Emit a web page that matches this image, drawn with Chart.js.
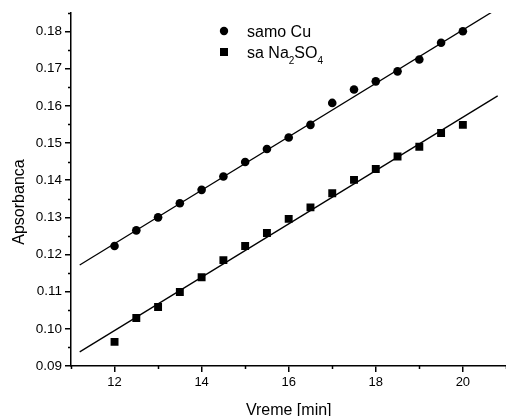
<!DOCTYPE html>
<html>
<head>
<meta charset="utf-8">
<script src="https://cdn.jsdelivr.net/npm/chart.js@4"></script>
<style>
  html, body { margin: 0; padding: 0; overflow: hidden; background: #fff; }
  #wrap { width: 512px; height: 416px; }
</style>
</head>
<body>
<div id="wrap"><canvas id="grafik" width="512" height="416"></canvas></div>
<script>
// Podaci ocitani sa grafika
const vreme = [12, 12.5, 13, 13.5, 14, 14.5, 15, 15.5, 16, 16.5, 17, 17.5, 18, 18.5, 19, 19.5, 20];
const samoCu = [0.1223, 0.1265, 0.1300, 0.1338, 0.1374, 0.1410, 0.1449, 0.1484, 0.1515, 0.1549,
                0.1608, 0.1644, 0.1666, 0.1693, 0.1725, 0.1770, 0.1801];
const saNa2SO4 = [0.0965, 0.1029, 0.1059, 0.1099, 0.1139, 0.1185, 0.1223, 0.1258, 0.1296, 0.1327,
                  0.1365, 0.1401, 0.1430, 0.1464, 0.1490, 0.1527, 0.1549];

// Linearni fit (krajnje tacke)
const fitX = [11.2, 20.8];
const fitCu = [0.1172, 0.1862];
const fitNa = [0.0938, 0.1627];

// Podeoci
const xMajor = [12, 14, 16, 18, 20];
const xMinor = [11, 13, 15, 17, 19, 21];
const yMajor = [0.09, 0.10, 0.11, 0.12, 0.13, 0.14, 0.15, 0.16, 0.17, 0.18];
const yMinor = [0.095, 0.105, 0.115, 0.125, 0.135, 0.145, 0.155, 0.165, 0.175, 0.185];

const FONT = 'Liberation Sans, Arial, sans-serif';

function toPoints(xs, ys) {
    return xs.map((x, i) => ({ x: x, y: ys[i] }));
}

// Sporedni podeoci, naslov y ose i legenda
const dodaci = {
    id: 'dodaci',
    afterDraw(chart) {
        const ctx = chart.ctx;
        const xs = chart.scales.x, ys = chart.scales.y;
        const area = chart.chartArea;
        ctx.save();
        ctx.strokeStyle = '#000';
        ctx.lineWidth = 1.5;
        ctx.beginPath();
        xMinor.forEach(v => {
            const px = Math.round(xs.getPixelForValue(v)) + 0.5;
            ctx.moveTo(px, area.bottom);
            ctx.lineTo(px, area.bottom + 3);
        });
        yMinor.forEach(v => {
            const py = Math.round(ys.getPixelForValue(v)) + 0.5;
            ctx.moveTo(area.left, py);
            ctx.lineTo(area.left - 3, py);
        });
        ctx.stroke();

        // naslov y ose
        ctx.fillStyle = '#000';
        ctx.font = '16px ' + FONT;
        ctx.textAlign = 'center';
        ctx.textBaseline = 'middle';
        ctx.save();
        ctx.translate(20, 202);
        ctx.rotate(-Math.PI / 2);
        ctx.fillText('Apsorbanca', 0, 0);
        ctx.restore();

        // legenda
        ctx.beginPath();
        ctx.arc(224, 31, 4.2, 0, Math.PI * 2);
        ctx.fill();
        ctx.fillRect(220, 48, 8, 8);

        ctx.textAlign = 'left';
        ctx.textBaseline = 'alphabetic';
        ctx.font = '16px ' + FONT;
        ctx.fillText('samo Cu', 247, 37);

        let x = 247;
        const delovi = [['sa Na', 0], ['2', 1], ['SO', 0], ['4', 1]];
        delovi.forEach(([t, sub]) => {
            ctx.font = (sub ? '10px ' : '16px ') + FONT;
            ctx.fillText(t, x, sub ? 64 : 58);
            x += ctx.measureText(t).width;
        });
        ctx.restore();
    }
};

const ctx = document.getElementById('grafik').getContext('2d');
new Chart(ctx, {
    type: 'scatter',
    data: {
        datasets: [{
            label: 'samo Cu',
            data: toPoints(vreme, samoCu),
            pointStyle: 'circle',
            pointRadius: 4.3,
            backgroundColor: '#000',
            borderColor: '#000',
            borderWidth: 0
        }, {
            label: 'sa Na2SO4',
            data: toPoints(vreme, saNa2SO4),
            pointStyle: 'rect',
            pointRadius: 5.6,
            backgroundColor: '#000',
            borderColor: '#000',
            borderWidth: 0
        }, {
            label: 'fit Cu',
            data: toPoints(fitX, fitCu),
            showLine: true,
            pointRadius: 0,
            borderColor: '#000',
            borderWidth: 1.3
        }, {
            label: 'fit Na2SO4',
            data: toPoints(fitX, fitNa),
            showLine: true,
            pointRadius: 0,
            borderColor: '#000',
            borderWidth: 1.3
        }]
    },
    options: {
        responsive: false,
        animation: false,
        events: [],
        layout: { padding: { top: 13, right: 2, left: 0, bottom: 0 } },
        plugins: {
            legend: { display: false },
            tooltip: { enabled: false }
        },
        scales: {
            x: {
                type: 'linear',
                min: 11,
                max: 21,
                afterBuildTicks: s => { s.ticks = xMajor.map(v => ({ value: v })); },
                afterFit: s => { s.height = 50; },
                grid: { drawOnChartArea: false, tickLength: 6, color: '#000', lineWidth: 1.5 },
                border: { color: '#000', width: 1.5 },
                ticks: {
                    color: '#000',
                    font: { family: FONT, size: 13 },
                    padding: 3,
                    maxRotation: 0,
                    callback: v => String(v)
                },
                title: {
                    display: true,
                    text: 'Vreme [min]',
                    color: '#000',
                    font: { family: FONT, size: 16 },
                    padding: { top: 0, bottom: -4 }
                }
            },
            y: {
                min: 0.09,
                max: 0.185,
                afterBuildTicks: s => { s.ticks = yMajor.map(v => ({ value: v })); },
                afterFit: s => { s.width = 71; },
                grid: { drawOnChartArea: false, tickLength: 6, color: '#000', lineWidth: 1.5 },
                border: { color: '#000', width: 1.5 },
                ticks: {
                    color: '#000',
                    font: { family: FONT, size: 13.5 },
                    padding: 3,
                    callback: v => v.toFixed(2)
                }
            }
        }
    },
    plugins: [dodaci]
});
</script>
</body>
</html>
